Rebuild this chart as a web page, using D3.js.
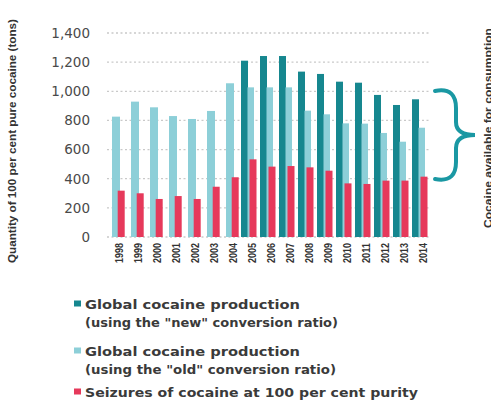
<!DOCTYPE html>
<html><head><meta charset="utf-8">
<script src="https://cdn.jsdelivr.net/npm/d3@7/dist/d3.min.js"></script>
<style>body{margin:0;background:#fff}svg{display:block}</style>
</head><body>
<script>
const years = [1998,1999,2000,2001,2002,2003,2004,2005,2006,2007,2008,2009,2010,2011,2012,2013,2014];
const newProd = [null,null,null,null,null,null,null,1210,1242,1242,1135,1119,1066,1059,975,906,945];
const oldProd = [826,929,890,830,810,865,1055,1027,1027,1027,867,842,780,778,714,654,750];
const seizures = [318,300,261,281,261,345,410,533,483,487,478,455,368,364,387,387,414];
const yTicks = [0,200,400,600,800,1000,1200,1400];
const legendLabels = [
  ["Global cocaine production","(using the \"new\" conversion ratio)"],
  ["Global cocaine production","(using the \"old\" conversion ratio)"],
  ["Seizures of cocaine at 100 per cent purity"]
];
const colors = ["#16878f","#8dcfd8","#e6395b"];

const W=491,H=403;
const svg=d3.select("body").append("svg").attr("width",W).attr("height",H);
const x=d3.scaleBand().domain(years).range([107,430]);
const y=d3.scaleLinear().domain([0,1400]).range([237,33]);

// gridlines
svg.append("g").selectAll("line").data(yTicks).join("line")
  .attr("x1",107).attr("x2",430).attr("y1",d=>y(d)).attr("y2",d=>y(d))
  .attr("stroke","#c9c9c9").attr("stroke-width",1.3).attr("stroke-dasharray","2,2.5");

// y axis tick labels
const fmt=d3.format(",");
svg.append("g").selectAll("text").data(yTicks).join("text")
  .attr("x",90).attr("y",d=>y(d)).attr("dy","0.36em").attr("text-anchor","end")
  .attr("font-family","DejaVu Sans").attr("font-size",13.5).attr("fill","#4a4a4a")
  .text(d=>fmt(d));

const data=years.map((yr,i)=>({yr,n:newProd[i],o:oldProd[i],s:seizures[i]}));
const bw=7;
const g=svg.append("g");
g.selectAll("rect.n").data(data.filter(d=>d.n!=null)).join("rect").attr("class","n")
  .attr("x",d=>x(d.yr)+1).attr("width",bw).attr("y",d=>y(d.n)).attr("height",d=>y(0)-y(d.n)).attr("fill",colors[0]);
g.selectAll("rect.o").data(data).join("rect").attr("class","o")
  .attr("x",d=>x(d.yr)+(d.n!=null?7.5:5)).attr("width",d=>d.n!=null?6.5:8).attr("y",d=>y(d.o)).attr("height",d=>y(0)-y(d.o)).attr("fill",colors[1]);
g.selectAll("rect.s").data(data).join("rect").attr("class","s")
  .attr("x",d=>x(d.yr)+(d.n!=null?9.5:10.7)).attr("width",bw).attr("y",d=>y(d.s)).attr("height",d=>y(0)-y(d.s)).attr("fill",colors[2]);

// x labels
svg.append("g").selectAll("text").data(years).join("text")
  .attr("transform",d=>`translate(${x(d)+x.bandwidth()/2+2.5},243) rotate(-90)`)
  .attr("text-anchor","end").attr("dy","0.35em")
  .attr("font-family","Liberation Sans").attr("font-weight","bold").attr("font-size",11)
  .attr("fill","#333").attr("textLength",20).attr("lengthAdjust","spacingAndGlyphs")
  .text(d=>d);

// y axis title
svg.append("text").attr("transform","translate(12,141) rotate(-90)")
  .attr("text-anchor","middle").attr("dy","0.35em")
  .attr("font-family","Liberation Sans").attr("font-weight","bold").attr("font-size",11.5)
  .attr("fill","#333").attr("textLength",244).attr("lengthAdjust","spacingAndGlyphs")
  .text("Quantity of 100 per cent pure cocaine (tons)");

// brace
svg.append("path")
  .attr("d","M435,91 C451,88 456,96 456,108 L456,122 C456,130 462,135 475,135 C462,135 456,140 456,148 L456,162 C456,174 451,182 435,179")
  .attr("fill","none").attr("stroke","#1a98a3").attr("stroke-width",4).attr("stroke-linecap","round");

// right label (cut off by the right edge, as in the reference)
svg.append("text").attr("transform","translate(492,228) rotate(-90)")
  .attr("text-anchor","start")
  .attr("font-family","Liberation Sans").attr("font-weight","bold").attr("font-size",11)
  .attr("fill","#333").attr("textLength",200).attr("lengthAdjust","spacingAndGlyphs")
  .text("Cocaine available for consumption");

// legend
const ly=[304,351,392];
const lineLens=[[215,253],[215,251],[333]];
legendLabels.forEach((lines,i)=>{
  svg.append("rect").attr("x",74).attr("y",ly[i]-3.5).attr("width",7).attr("height",6).attr("fill",colors[i]);
  lines.forEach((t,j)=>{
    svg.append("text").attr("x",85).attr("y",ly[i]+j*18).attr("dy","0.35em")
      .attr("font-family","DejaVu Sans").attr("font-weight","bold").attr("font-size",13)
      .attr("fill","#3a3a3a").attr("textLength",lineLens[i][j]).attr("lengthAdjust","spacingAndGlyphs")
      .text(t);
  });
});
</script>
</body></html>
